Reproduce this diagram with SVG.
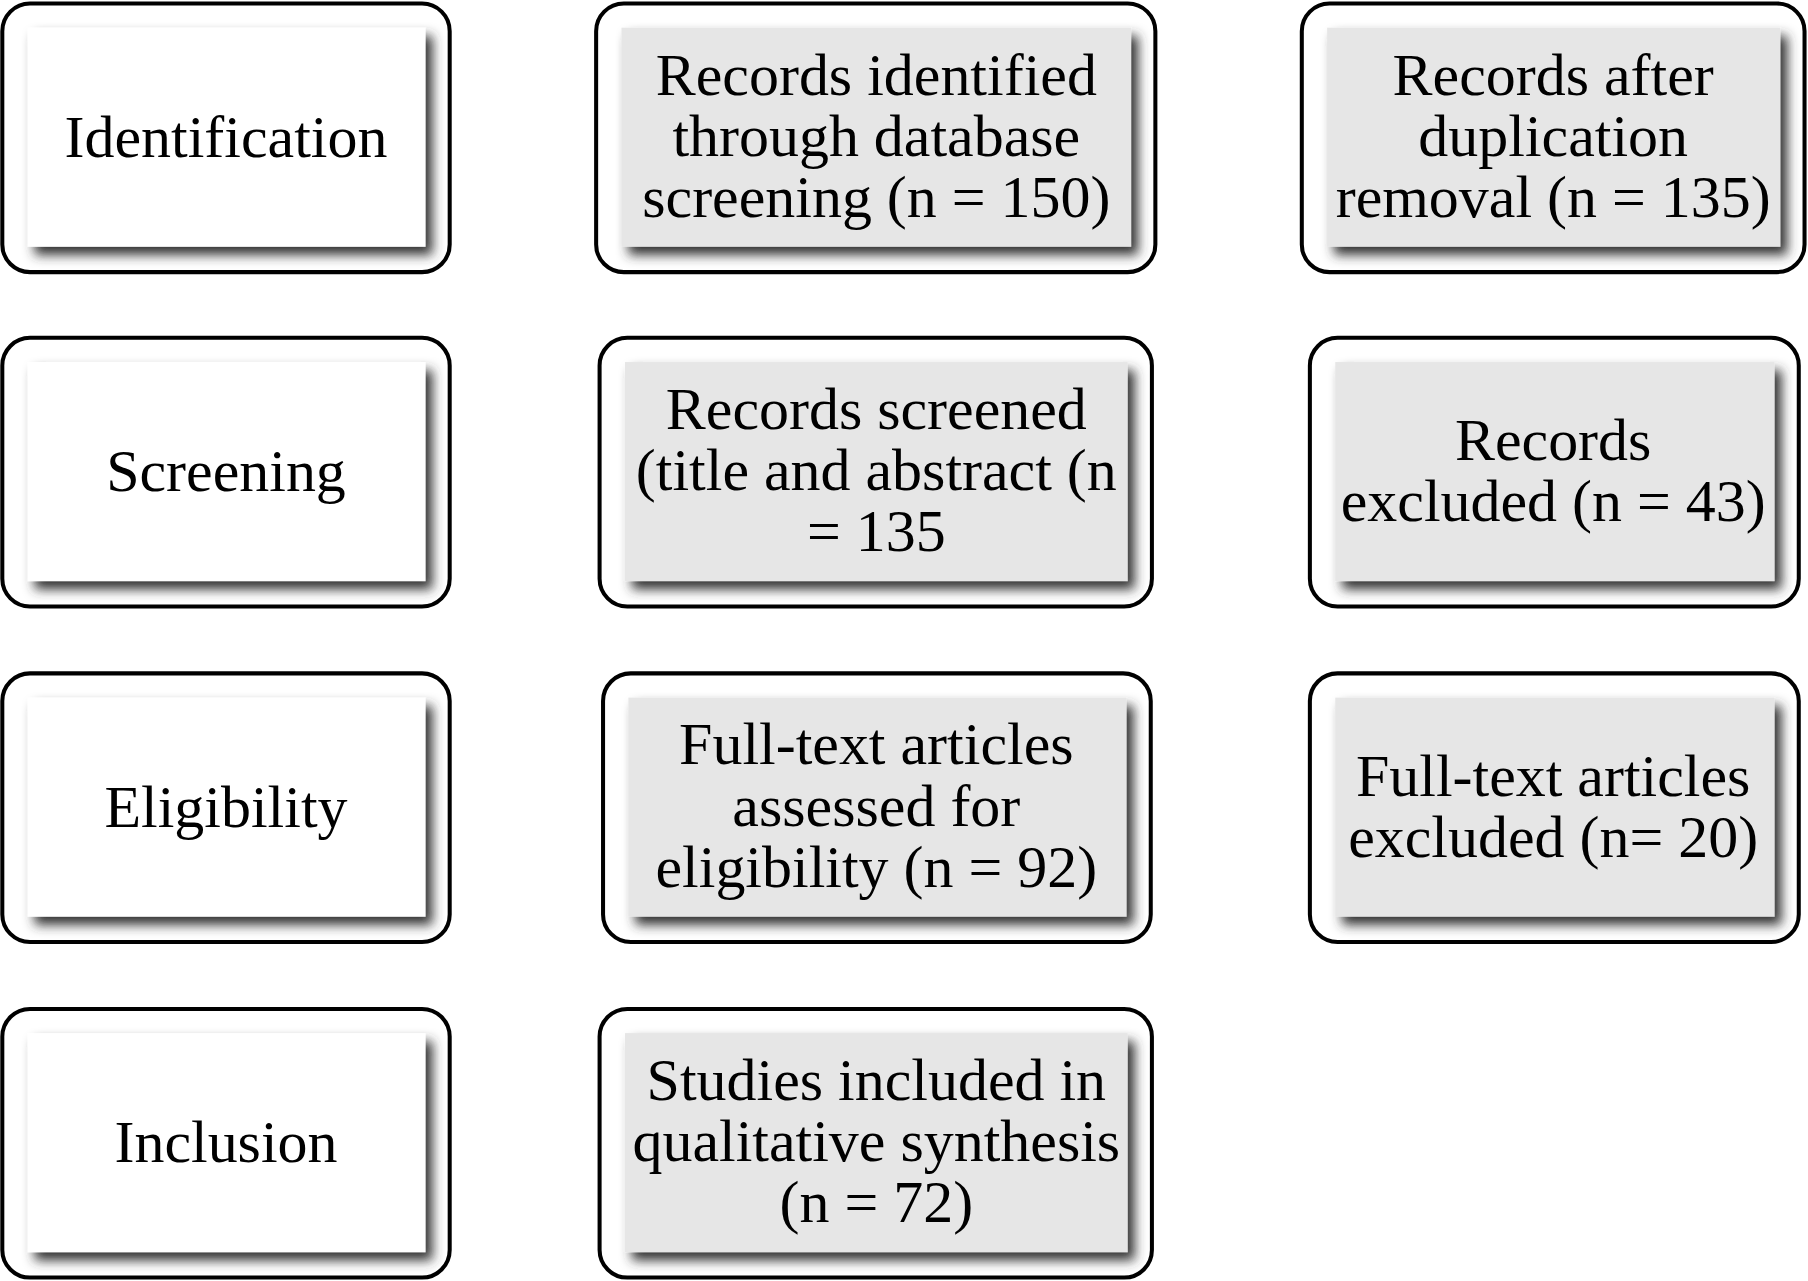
<svg xmlns="http://www.w3.org/2000/svg" width="1808" height="1281" viewBox="0 0 1808 1281">
<style>
.o{fill:#fff;stroke:#000;stroke-width:3.5}
.w{fill:#fff;filter:url(#bev)}
.g{fill:#e6e6e6;filter:url(#bev)}
text{font-family:"Liberation Serif","Times New Roman",serif;font-size:52px;fill:#000;text-anchor:middle}
</style>
<defs>
<filter id="bev" x="-10%" y="-10%" width="125%" height="130%">
<feDropShadow dx="6" dy="7" stdDeviation="5" flood-color="#333" flood-opacity="1"/>
</filter>
</defs>
<rect width="1808" height="1281" fill="#fff"/>
<g transform="scale(1.15306)">
<g id="n-identification"><rect class="o" x="2" y="3" width="388" height="233" rx="24"/><rect class="w" x="24" y="24" width="345" height="190"/><text x="196" y="136">Identification</text></g>
<g id="n-screening"><rect class="o" x="2" y="293" width="388" height="233" rx="24"/><rect class="w" x="24" y="314" width="345" height="190"/><text x="196" y="426">Screening</text></g>
<g id="n-eligibility"><rect class="o" x="2" y="584" width="388" height="233" rx="24"/><rect class="w" x="24" y="605" width="345" height="190"/><text x="196" y="717">Eligibility</text></g>
<g id="n-inclusion"><rect class="o" x="2" y="875" width="388" height="233" rx="24"/><rect class="w" x="24" y="896" width="345" height="190"/><text x="196" y="1008">Inclusion</text></g>

<g id="n-records-identified"><rect class="o" x="517" y="3" width="485" height="233" rx="24"/><rect class="g" x="539" y="24" width="442" height="190"/><text x="760" y="82">Records identified</text><text x="760" y="135">through database</text><text x="760" y="188">screening (n = 150)</text></g>
<g id="n-records-screened"><rect class="o" x="520" y="293" width="479" height="233" rx="24"/><rect class="g" x="542" y="314" width="436" height="190"/><text x="760" y="372">Records screened</text><text x="760" y="425">(title and abstract (n</text><text x="760" y="478">= 135</text></g>
<g id="n-fulltext-assessed"><rect class="o" x="523" y="584" width="475" height="233" rx="24"/><rect class="g" x="545" y="605" width="432" height="190"/><text x="760" y="663">Full-text articles</text><text x="760" y="716">assessed for</text><text x="760" y="769">eligibility (n = 92)</text></g>
<g id="n-studies-included"><rect class="o" x="520" y="875" width="479" height="233" rx="24"/><rect class="g" x="542" y="896" width="436" height="190"/><text x="760" y="954">Studies included in</text><text x="760" y="1007">qualitative synthesis</text><text x="760" y="1060">(n = 72)</text></g>

<g id="n-after-duplication"><rect class="o" x="1129" y="3" width="436" height="233" rx="24"/><rect class="g" x="1151" y="24" width="393" height="190"/><text x="1347" y="82">Records after</text><text x="1347" y="135">duplication</text><text x="1347" y="188">removal (n = 135)</text></g>
<g id="n-records-excluded"><rect class="o" x="1136" y="293" width="424" height="233" rx="24"/><rect class="g" x="1158" y="314" width="381" height="190"/><text x="1347" y="399">Records</text><text x="1347" y="452">excluded (n = 43)</text></g>
<g id="n-fulltext-excluded"><rect class="o" x="1136" y="584" width="424" height="233" rx="24"/><rect class="g" x="1158" y="605" width="381" height="190"/><text x="1347" y="690">Full-text articles</text><text x="1347" y="743">excluded (n= 20)</text></g>
<g id="connectors"></g>
</g>
</svg>
